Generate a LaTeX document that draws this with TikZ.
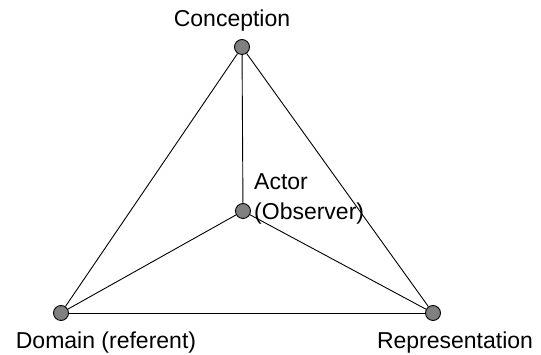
\documentclass[tikz,border=0pt]{standalone}
\usepackage{fontspec}
\setmainfont{Liberation Sans}
\begin{document}
\begin{tikzpicture}[x=1pt,y=1pt,
  vertex/.style={circle,draw=black,fill=black!50,line width=0.9pt,minimum size=15pt,inner sep=0pt},
  lbl/.style={inner sep=0pt,font=\fontsize{23}{30}\selectfont},
  edge/.style={line width=0.9pt,draw=black}]
\useasboundingbox (0,0) rectangle (541,355);
\node[vertex] (C) at (242,308) {};
\node[vertex] (A) at (243,144) {};
\node[vertex] (D) at (61,42) {};
\node[vertex] (R) at (433,42) {};
\draw[edge] (C) -- (A);
\draw[edge] (C) -- (D);
\draw[edge] (C) -- (R);
\draw[edge] (A) -- (D);
\draw[edge] (A) -- (R);
\draw[edge] (D) -- (R);
\node[lbl,anchor=base] (Ct) at (232,328) {Conception};
\node[lbl,anchor=base] (Dt) at (106,6) {Domain (referent)};
\node[lbl,anchor=base] (Rt) at (455,6) {Representation};
\node[lbl,anchor=base west,align=left] (At) at (254,135) {Actor\\(Observer)};
\end{tikzpicture}
\end{document}
